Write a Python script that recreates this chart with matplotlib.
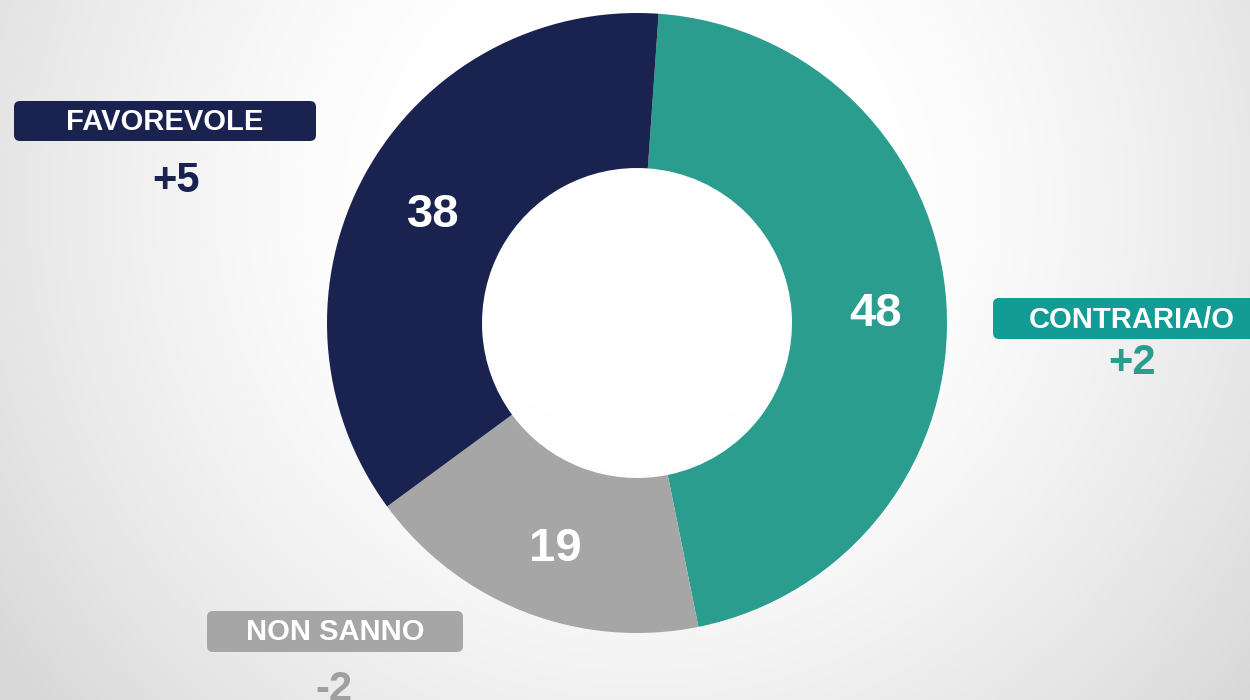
import matplotlib.pyplot as plt
import numpy as np
from matplotlib.patches import FancyBboxPatch

plt.rcParams["font.family"] = ["Liberation Sans", "DejaVu Sans"]

categories = ["CONTRARIA/O", "NON SANNO", "FAVOREVOLE"]
values = [48, 19, 38]
changes = ["+2", "-2", "+5"]

NAVY = "#1a2350"
TEAL = "#2a9d8f"
TEAL_BOX = "#139c95"
GREY = "#a6a6a6"
slice_colors = [TEAL, GREY, NAVY]

W, H = 1250, 700
fig = plt.figure(figsize=(12.5, 7), dpi=100)
ax = fig.add_axes([0, 0, 1, 1])

# soft radial background: white around the top centre, light grey towards the corners
yy, xx = np.mgrid[0:H, 0:W]
dist = np.hypot(xx - 640, yy - 200)
shade = 1.0 - 0.15 * np.clip((dist - 230) / 550, 0, 1) ** 1.4
ax.imshow(np.dstack([shade] * 3), extent=(0, W, 0, H), origin="upper", zorder=0)

# donut
total = sum(values)
wedges, _, autotexts = ax.pie(
    values,
    colors=slice_colors,
    startangle=86,
    counterclock=False,
    center=(637, H - 323),
    radius=310,
    frame=True,
    autopct=lambda p: f"{round(p * total / 100)}",
    pctdistance=0.76,
    wedgeprops=dict(width=155, edgecolor="none"),
    textprops=dict(color="white", fontsize=34, fontweight="bold"),
)
for w in wedges:
    w.set_zorder(2)
for t in autotexts:
    t.set_zorder(3)
    x, y = t.get_position()
    t.set_position((x + 3, y - 6))
ax.set_xlim(0, W)
ax.set_ylim(0, H)
ax.set_aspect("equal")
ax.axis("off")

# category tags: (box x0, box top, width, height, box colour, change pos, change colour)
tags = {
    "FAVOREVOLE": (14, 101, 302, 40, NAVY, (176, 181), NAVY),
    "CONTRARIA/O": (993, 298, 270, 41, TEAL_BOX, (1132, 363), TEAL),
    "NON SANNO": (207, 611, 256, 41, GREY, (334, 690), "#a0a0a0"),
}
for name, chg in zip(categories, changes):
    x0, y0, bw, bh, bc, (cx, cy), cc = tags[name]
    box = FancyBboxPatch(
        (x0, H - y0 - bh), bw, bh,
        boxstyle="round,pad=0,rounding_size=6",
        facecolor=bc, edgecolor="none", zorder=4,
    )
    ax.add_patch(box)
    tx = x0 + bw / 2 if name != "CONTRARIA/O" else 1132
    ax.text(tx, H - y0 - bh / 2 - 1, name, color="white", fontsize=21,
            fontweight="bold", ha="center", va="center", zorder=5)
    ax.text(cx, H - cy, chg, color=cc, fontsize=30, fontweight="bold",
            ha="center", va="center", zorder=5)

fig.savefig("out.png", dpi=100)
